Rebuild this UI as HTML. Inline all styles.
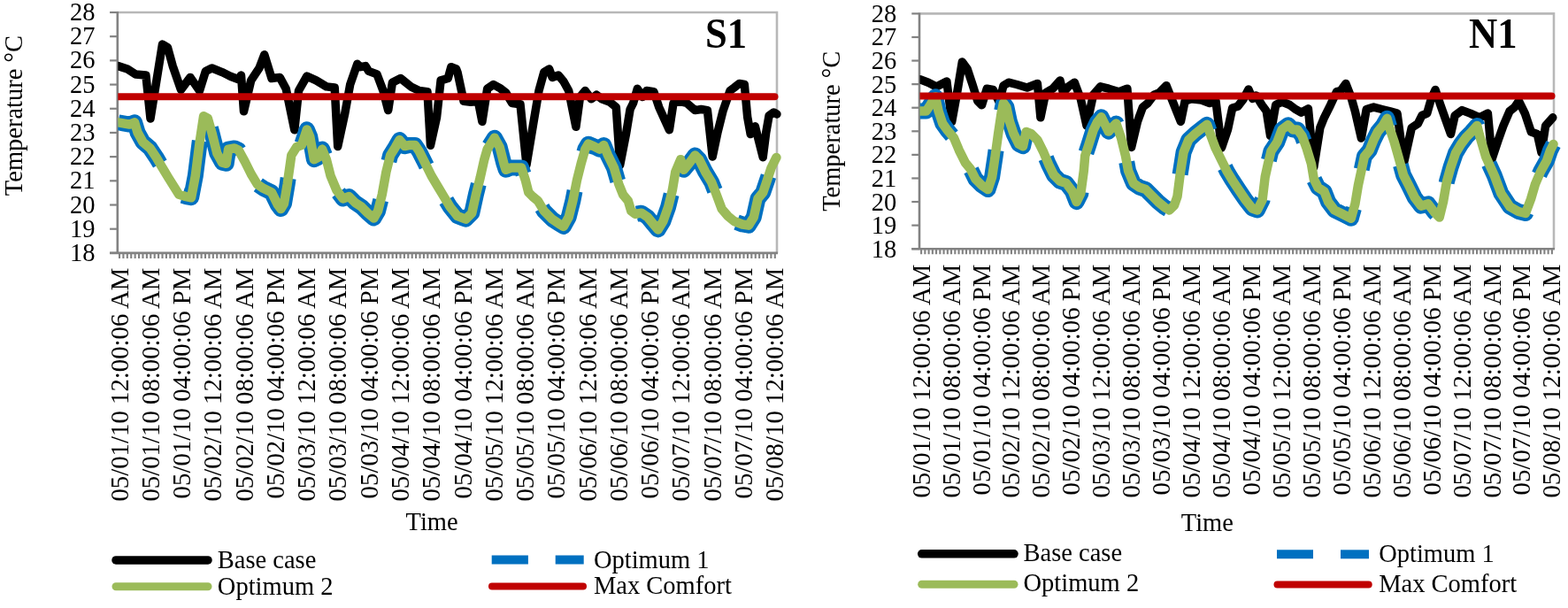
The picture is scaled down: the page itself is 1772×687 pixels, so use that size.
<!DOCTYPE html>
<html><head><meta charset="utf-8"><style>
html,body{margin:0;padding:0;background:#fff;overflow:hidden;width:1772px;height:687px;}
svg{display:block;}
text{font-family:'Liberation Serif','Times New Roman',serif;font-size:28.5px;fill:#000;}
</style></head><body>
<svg width="1772" height="687" viewBox="0 0 1772 687">
<rect width="1772" height="687" fill="#fff"/>
<path d="M132.8,14.0 H878 V285.9" fill="none" stroke="#b8b8b8" stroke-width="2.6"/>
<line x1="124.1" y1="285.90" x2="132.8" y2="285.90" stroke="#828282" stroke-width="2.2"/>
<text x="107.5" y="294.90" text-anchor="end">18</text>
<line x1="124.1" y1="258.71" x2="132.8" y2="258.71" stroke="#828282" stroke-width="2.2"/>
<text x="107.5" y="267.71" text-anchor="end">19</text>
<line x1="124.1" y1="231.52" x2="132.8" y2="231.52" stroke="#828282" stroke-width="2.2"/>
<text x="107.5" y="240.52" text-anchor="end">20</text>
<line x1="124.1" y1="204.33" x2="132.8" y2="204.33" stroke="#828282" stroke-width="2.2"/>
<text x="107.5" y="213.33" text-anchor="end">21</text>
<line x1="124.1" y1="177.14" x2="132.8" y2="177.14" stroke="#828282" stroke-width="2.2"/>
<text x="107.5" y="186.14" text-anchor="end">22</text>
<line x1="124.1" y1="149.95" x2="132.8" y2="149.95" stroke="#828282" stroke-width="2.2"/>
<text x="107.5" y="158.95" text-anchor="end">23</text>
<line x1="124.1" y1="122.76" x2="132.8" y2="122.76" stroke="#828282" stroke-width="2.2"/>
<text x="107.5" y="131.76" text-anchor="end">24</text>
<line x1="124.1" y1="95.57" x2="132.8" y2="95.57" stroke="#828282" stroke-width="2.2"/>
<text x="107.5" y="104.57" text-anchor="end">25</text>
<line x1="124.1" y1="68.38" x2="132.8" y2="68.38" stroke="#828282" stroke-width="2.2"/>
<text x="107.5" y="77.38" text-anchor="end">26</text>
<line x1="124.1" y1="41.19" x2="132.8" y2="41.19" stroke="#828282" stroke-width="2.2"/>
<text x="107.5" y="50.19" text-anchor="end">27</text>
<line x1="124.1" y1="14.00" x2="132.8" y2="14.00" stroke="#828282" stroke-width="2.2"/>
<text x="107.5" y="23.00" text-anchor="end">28</text>
<path d="M135.00,285.9 v6 M139.41,285.9 v6 M143.82,285.9 v6 M148.23,285.9 v6 M152.64,285.9 v6 M157.05,285.9 v6 M161.46,285.9 v6 M165.87,285.9 v6 M170.28,285.9 v6 M174.69,285.9 v6 M179.10,285.9 v6 M183.51,285.9 v6 M187.92,285.9 v6 M192.33,285.9 v6 M196.74,285.9 v6 M201.15,285.9 v6 M205.56,285.9 v6 M209.97,285.9 v6 M214.38,285.9 v6 M218.78,285.9 v6 M223.19,285.9 v6 M227.60,285.9 v6 M232.01,285.9 v6 M236.42,285.9 v6 M240.83,285.9 v6 M245.24,285.9 v6 M249.65,285.9 v6 M254.06,285.9 v6 M258.47,285.9 v6 M262.88,285.9 v6 M267.29,285.9 v6 M271.70,285.9 v6 M276.11,285.9 v6 M280.52,285.9 v6 M284.93,285.9 v6 M289.34,285.9 v6 M293.75,285.9 v6 M298.16,285.9 v6 M302.56,285.9 v6 M306.97,285.9 v6 M311.38,285.9 v6 M315.79,285.9 v6 M320.20,285.9 v6 M324.61,285.9 v6 M329.02,285.9 v6 M333.43,285.9 v6 M337.84,285.9 v6 M342.25,285.9 v6 M346.66,285.9 v6 M351.07,285.9 v6 M355.48,285.9 v6 M359.89,285.9 v6 M364.30,285.9 v6 M368.71,285.9 v6 M373.12,285.9 v6 M377.53,285.9 v6 M381.93,285.9 v6 M386.34,285.9 v6 M390.75,285.9 v6 M395.16,285.9 v6 M399.57,285.9 v6 M403.98,285.9 v6 M408.39,285.9 v6 M412.80,285.9 v6 M417.21,285.9 v6 M421.62,285.9 v6 M426.03,285.9 v6 M430.44,285.9 v6 M434.85,285.9 v6 M439.26,285.9 v6 M443.67,285.9 v6 M448.08,285.9 v6 M452.49,285.9 v6 M456.90,285.9 v6 M461.31,285.9 v6 M465.71,285.9 v6 M470.12,285.9 v6 M474.53,285.9 v6 M478.94,285.9 v6 M483.35,285.9 v6 M487.76,285.9 v6 M492.17,285.9 v6 M496.58,285.9 v6 M500.99,285.9 v6 M505.40,285.9 v6 M509.81,285.9 v6 M514.22,285.9 v6 M518.63,285.9 v6 M523.04,285.9 v6 M527.45,285.9 v6 M531.86,285.9 v6 M536.27,285.9 v6 M540.68,285.9 v6 M545.09,285.9 v6 M549.49,285.9 v6 M553.90,285.9 v6 M558.31,285.9 v6 M562.72,285.9 v6 M567.13,285.9 v6 M571.54,285.9 v6 M575.95,285.9 v6 M580.36,285.9 v6 M584.77,285.9 v6 M589.18,285.9 v6 M593.59,285.9 v6 M598.00,285.9 v6 M602.41,285.9 v6 M606.82,285.9 v6 M611.23,285.9 v6 M615.64,285.9 v6 M620.05,285.9 v6 M624.46,285.9 v6 M628.87,285.9 v6 M633.27,285.9 v6 M637.68,285.9 v6 M642.09,285.9 v6 M646.50,285.9 v6 M650.91,285.9 v6 M655.32,285.9 v6 M659.73,285.9 v6 M664.14,285.9 v6 M668.55,285.9 v6 M672.96,285.9 v6 M677.37,285.9 v6 M681.78,285.9 v6 M686.19,285.9 v6 M690.60,285.9 v6 M695.01,285.9 v6 M699.42,285.9 v6 M703.83,285.9 v6 M708.24,285.9 v6 M712.64,285.9 v6 M717.05,285.9 v6 M721.46,285.9 v6 M725.87,285.9 v6 M730.28,285.9 v6 M734.69,285.9 v6 M739.10,285.9 v6 M743.51,285.9 v6 M747.92,285.9 v6 M752.33,285.9 v6 M756.74,285.9 v6 M761.15,285.9 v6 M765.56,285.9 v6 M769.97,285.9 v6 M774.38,285.9 v6 M778.79,285.9 v6 M783.20,285.9 v6 M787.61,285.9 v6 M792.02,285.9 v6 M796.42,285.9 v6 M800.83,285.9 v6 M805.24,285.9 v6 M809.65,285.9 v6 M814.06,285.9 v6 M818.47,285.9 v6 M822.88,285.9 v6 M827.29,285.9 v6 M831.70,285.9 v6 M836.11,285.9 v6 M840.52,285.9 v6 M844.93,285.9 v6 M849.34,285.9 v6 M853.75,285.9 v6 M858.16,285.9 v6 M862.57,285.9 v6 M866.98,285.9 v6 M871.39,285.9 v6 M875.80,285.9 v6" stroke="#828282" stroke-width="2.1" fill="none"/>
<line x1="132.8" y1="13.0" x2="132.8" y2="285.9" stroke="#828282" stroke-width="2.6"/>
<line x1="124.1" y1="285.9" x2="879" y2="285.9" stroke="#828282" stroke-width="2.6"/>
<text transform="translate(144.50,302.60) rotate(-90)" text-anchor="end" style="font-size:28.8px">05/01/10 12:00:06 AM</text>
<text transform="translate(179.78,302.60) rotate(-90)" text-anchor="end" style="font-size:28.8px">05/01/10 08:00:06 AM</text>
<text transform="translate(215.06,302.60) rotate(-90)" text-anchor="end" style="font-size:28.8px">05/01/10 04:00:06 PM</text>
<text transform="translate(250.33,302.60) rotate(-90)" text-anchor="end" style="font-size:28.8px">05/02/10 12:00:06 AM</text>
<text transform="translate(285.61,302.60) rotate(-90)" text-anchor="end" style="font-size:28.8px">05/02/10 08:00:06 AM</text>
<text transform="translate(320.88,302.60) rotate(-90)" text-anchor="end" style="font-size:28.8px">05/02/10 04:00:06 PM</text>
<text transform="translate(356.16,302.60) rotate(-90)" text-anchor="end" style="font-size:28.8px">05/03/10 12:00:06 AM</text>
<text transform="translate(391.43,302.60) rotate(-90)" text-anchor="end" style="font-size:28.8px">05/03/10 08:00:06 AM</text>
<text transform="translate(426.71,302.60) rotate(-90)" text-anchor="end" style="font-size:28.8px">05/03/10 04:00:06 PM</text>
<text transform="translate(461.99,302.60) rotate(-90)" text-anchor="end" style="font-size:28.8px">05/04/10 12:00:06 AM</text>
<text transform="translate(497.26,302.60) rotate(-90)" text-anchor="end" style="font-size:28.8px">05/04/10 08:00:06 AM</text>
<text transform="translate(532.54,302.60) rotate(-90)" text-anchor="end" style="font-size:28.8px">05/04/10 04:00:06 PM</text>
<text transform="translate(567.81,302.60) rotate(-90)" text-anchor="end" style="font-size:28.8px">05/05/10 12:00:06 AM</text>
<text transform="translate(603.09,302.60) rotate(-90)" text-anchor="end" style="font-size:28.8px">05/05/10 08:00:06 AM</text>
<text transform="translate(638.37,302.60) rotate(-90)" text-anchor="end" style="font-size:28.8px">05/05/10 04:00:06 PM</text>
<text transform="translate(673.64,302.60) rotate(-90)" text-anchor="end" style="font-size:28.8px">05/06/10 12:00:06 AM</text>
<text transform="translate(708.92,302.60) rotate(-90)" text-anchor="end" style="font-size:28.8px">05/06/10 08:00:06 AM</text>
<text transform="translate(744.19,302.60) rotate(-90)" text-anchor="end" style="font-size:28.8px">05/06/10 04:00:06 PM</text>
<text transform="translate(779.47,302.60) rotate(-90)" text-anchor="end" style="font-size:28.8px">05/07/10 12:00:06 AM</text>
<text transform="translate(814.74,302.60) rotate(-90)" text-anchor="end" style="font-size:28.8px">05/07/10 08:00:06 AM</text>
<text transform="translate(850.02,302.60) rotate(-90)" text-anchor="end" style="font-size:28.8px">05/07/10 04:00:06 PM</text>
<text transform="translate(885.30,302.60) rotate(-90)" text-anchor="end" style="font-size:28.8px">05/08/10 12:00:06 AM</text>
<clipPath id="cpS1"><rect x="133.3" y="0" width="765.2" height="295.9"/></clipPath><g clip-path="url(#cpS1)">
<polyline points="133.5,74.6 144.0,78.0 153.3,83.9 164.9,85.0 170.0,134.0 183.5,50.1 189.4,53.6 195.2,74.6 204.5,101.4 215.0,87.4 225.5,102.5 232.4,80.4 239.4,76.9 251.0,81.6 260.4,86.2 269.7,89.7 272.5,85.0 275.5,125.8 283.7,90.9 293.0,76.9 298.8,61.8 307.0,88.5 316.3,87.4 323.2,100.2 332.8,146.8 337.5,102.5 346.8,86.2 357.3,90.9 368.9,97.9 378.2,99.0 381.7,165.4 389.8,128.0 395.7,95.5 403.8,72.3 407.3,75.7 413.1,74.6 416.6,80.4 426.0,83.9 433.0,102.5 438.7,124.6 443.4,93.2 452.7,88.5 464.4,97.9 473.7,102.5 483.0,103.7 486.5,164.2 493.5,132.8 498.1,90.9 506.3,88.5 509.8,75.7 515.6,78.0 517.0,81.6 524.0,114.2 532.1,115.3 540.3,114.2 544.9,137.4 550.7,100.2 557.7,95.5 565.9,100.2 571.7,104.8 578.7,116.5 588.0,117.7 595.0,186.3 603.1,137.4 609.0,102.5 614.8,81.6 620.6,78.0 624.1,87.4 631.1,85.0 636.9,92.0 642.7,102.5 650.9,143.3 655.5,109.5 661.3,102.5 668.3,111.8 674.1,107.2 680.0,111.8 689.3,115.3 696.3,121.1 700.7,186.3 707.5,151.4 712.1,123.5 715.6,116.5 720.3,100.2 726.1,109.5 730.7,102.5 738.9,103.7 744.7,121.1 756.4,146.8 761.0,116.5 766.8,114.2 776.1,116.5 785.5,124.6 792.4,123.5 799.4,124.6 805.2,177.0 811.1,149.1 816.9,125.8 825.0,102.5 829.7,99.0 835.5,94.4 841.3,95.5 844.7,132.4 848.2,151.6 853.4,142.8 862.2,177.7 865.7,149.8 869.1,130.6 874.4,127.0 877.9,128.9" fill="none" stroke="#000000" stroke-width="9.5" stroke-linejoin="round" stroke-linecap="round"/>
<polyline points="133.5,138.3 139.3,139.4 146.3,140.6 152.1,138.3 155.6,149.9 161.4,160.4 169.6,167.4 176.6,177.9 183.5,189.5 190.5,201.1 196.4,210.5 202.2,219.8 210.3,222.1 216.1,223.3 220.8,198.8 225.5,161.6 230.1,131.3 234.8,133.6 239.4,149.9 245.3,173.2 251.1,183.7 255.7,184.8 258.1,168.6 265.0,167.4 269.7,169.7 276.7,182.5 283.7,196.5 290.7,208.1 297.6,212.8 307.0,217.4 313.9,231.4 317.4,236.1 321.0,230.0 324.7,208.1 329.3,175.5 335.1,166.2 341.0,163.9 346.8,146.4 350.3,154.6 354.9,180.2 359.6,177.9 364.2,168.6 368.9,180.2 373.6,198.8 380.5,215.1 387.5,224.4 394.5,222.1 401.5,229.1 408.5,233.7 415.5,240.7 422.4,246.5 427.1,238.4 431.8,219.8 436.4,194.2 441.1,175.5 446.9,166.2 451.5,158.1 457.4,165.1 463.2,163.9 469.0,163.9 473.7,170.9 480.7,184.8 487.6,198.8 494.6,210.5 501.6,222.1 508.6,233.7 517.0,244.2 526.3,247.7 533.3,240.7 537.9,219.8 542.6,201.1 547.3,180.2 550.7,168.6 556.6,159.2 558.9,155.7 564.7,166.2 569.4,184.8 571.7,191.8 577.5,189.5 589.2,189.5 593.8,203.5 597.3,217.4 602.0,222.1 607.8,226.8 614.8,238.4 624.1,247.7 631.1,252.4 636.9,255.9 642.7,245.4 647.4,226.8 652.0,203.5 656.7,184.8 661.3,168.6 664.8,162.7 670.7,165.1 677.6,168.6 682.3,163.9 687.0,175.5 693.9,189.5 699.3,208.1 704.0,219.8 709.8,226.8 713.3,238.4 717.9,241.9 724.9,240.7 731.9,245.4 737.7,252.4 743.6,259.4 749.4,250.0 755.2,233.7 759.8,215.1 763.3,194.2 769.2,180.2 772.7,191.8 778.5,184.8 785.5,175.5 790.1,180.2 797.1,194.2 804.1,205.8 808.7,217.4 815.7,236.1 822.7,244.2 829.7,250.0 839.0,253.5 846.0,254.7 851.8,245.4 856.5,224.4 862.3,217.4 867.0,203.5 871.6,189.5 877.4,177.9" fill="none" stroke="#0070c0" stroke-width="18" stroke-linejoin="round" stroke-dasharray="75 45" stroke-dashoffset="0"/>
<polyline points="133.5,138.3 139.3,139.4 146.3,140.6 152.1,138.3 155.6,149.9 161.4,160.4 169.6,167.4 176.6,177.9 183.5,189.5 190.5,201.1 196.4,210.5 202.2,219.8 210.3,222.1 216.1,223.3 220.8,198.8 225.5,161.6 230.1,131.3 234.8,133.6 239.4,149.9 245.3,173.2 251.1,183.7 255.7,184.8 258.1,168.6 265.0,167.4 269.7,169.7 276.7,182.5 283.7,196.5 290.7,208.1 297.6,212.8 307.0,217.4 313.9,231.4 317.4,236.1 321.0,230.0 324.7,208.1 329.3,175.5 335.1,166.2 341.0,163.9 346.8,146.4 350.3,154.6 354.9,180.2 359.6,177.9 364.2,168.6 368.9,180.2 373.6,198.8 380.5,215.1 387.5,224.4 394.5,222.1 401.5,229.1 408.5,233.7 415.5,240.7 422.4,246.5 427.1,238.4 431.8,219.8 436.4,194.2 441.1,175.5 446.9,166.2 451.5,158.1 457.4,165.1 463.2,163.9 469.0,163.9 473.7,170.9 480.7,184.8 487.6,198.8 494.6,210.5 501.6,222.1 508.6,233.7 517.0,244.2 526.3,247.7 533.3,240.7 537.9,219.8 542.6,201.1 547.3,180.2 550.7,168.6 556.6,159.2 558.9,155.7 564.7,166.2 569.4,184.8 571.7,191.8 577.5,189.5 589.2,189.5 593.8,203.5 597.3,217.4 602.0,222.1 607.8,226.8 614.8,238.4 624.1,247.7 631.1,252.4 636.9,255.9 642.7,245.4 647.4,226.8 652.0,203.5 656.7,184.8 661.3,168.6 664.8,162.7 670.7,165.1 677.6,168.6 682.3,163.9 687.0,175.5 693.9,189.5 699.3,208.1 704.0,219.8 709.8,226.8 713.3,238.4 717.9,241.9 724.9,240.7 731.9,245.4 737.7,252.4 743.6,259.4 749.4,250.0 755.2,233.7 759.8,215.1 763.3,194.2 769.2,180.2 772.7,191.8 778.5,184.8 785.5,175.5 790.1,180.2 797.1,194.2 804.1,205.8 808.7,217.4 815.7,236.1 822.7,244.2 829.7,250.0 839.0,253.5 846.0,254.7 851.8,245.4 856.5,224.4 862.3,217.4 867.0,203.5 871.6,189.5 877.4,177.9" fill="none" stroke="#9bbb59" stroke-width="10.5" stroke-linejoin="round" stroke-linecap="round"/>
<line x1="132.8" y1="109.16" x2="875.5" y2="109.16" stroke="#c00000" stroke-width="8" stroke-linecap="round"/>
</g>
<text transform="translate(25,130.6) rotate(-90)" text-anchor="middle">Temperature °C</text>
<text x="458.5" y="599">Time</text>
<text transform="translate(797,54) scale(0.92,1)" style="font-weight:bold;font-size:48.5px">S1</text>
<line x1="131" y1="632.9" x2="235" y2="632.9" stroke="#000000" stroke-width="9.5" stroke-linecap="round"/>
<line x1="131" y1="662.7" x2="235" y2="662.7" stroke="#9bbb59" stroke-width="9" stroke-linecap="round"/>
<text x="245.8" y="642">Base case</text>
<text x="245.8" y="671.5">Optimum 2</text>
<line x1="555.7" y1="632.6" x2="596.9" y2="632.6" stroke="#0070c0" stroke-width="10"/>
<line x1="627.7" y1="632.6" x2="659.7" y2="632.6" stroke="#0070c0" stroke-width="10"/>
<line x1="556" y1="662.4" x2="659" y2="662.4" stroke="#c00000" stroke-width="8" stroke-linecap="round"/>
<text x="670.9" y="641.8">Optimum 1</text>
<text x="670.9" y="671.4">Max Comfort</text>
<path d="M1039,15.4 H1756 V281.2" fill="none" stroke="#b8b8b8" stroke-width="2.6"/>
<line x1="1030.3" y1="281.20" x2="1039" y2="281.20" stroke="#828282" stroke-width="2.2"/>
<text x="1013.3" y="290.70" text-anchor="end">18</text>
<line x1="1030.3" y1="254.62" x2="1039" y2="254.62" stroke="#828282" stroke-width="2.2"/>
<text x="1013.3" y="264.12" text-anchor="end">19</text>
<line x1="1030.3" y1="228.04" x2="1039" y2="228.04" stroke="#828282" stroke-width="2.2"/>
<text x="1013.3" y="237.54" text-anchor="end">20</text>
<line x1="1030.3" y1="201.46" x2="1039" y2="201.46" stroke="#828282" stroke-width="2.2"/>
<text x="1013.3" y="210.96" text-anchor="end">21</text>
<line x1="1030.3" y1="174.88" x2="1039" y2="174.88" stroke="#828282" stroke-width="2.2"/>
<text x="1013.3" y="184.38" text-anchor="end">22</text>
<line x1="1030.3" y1="148.30" x2="1039" y2="148.30" stroke="#828282" stroke-width="2.2"/>
<text x="1013.3" y="157.80" text-anchor="end">23</text>
<line x1="1030.3" y1="121.72" x2="1039" y2="121.72" stroke="#828282" stroke-width="2.2"/>
<text x="1013.3" y="131.22" text-anchor="end">24</text>
<line x1="1030.3" y1="95.14" x2="1039" y2="95.14" stroke="#828282" stroke-width="2.2"/>
<text x="1013.3" y="104.64" text-anchor="end">25</text>
<line x1="1030.3" y1="68.56" x2="1039" y2="68.56" stroke="#828282" stroke-width="2.2"/>
<text x="1013.3" y="78.06" text-anchor="end">26</text>
<line x1="1030.3" y1="41.98" x2="1039" y2="41.98" stroke="#828282" stroke-width="2.2"/>
<text x="1013.3" y="51.48" text-anchor="end">27</text>
<line x1="1030.3" y1="15.40" x2="1039" y2="15.40" stroke="#828282" stroke-width="2.2"/>
<text x="1013.3" y="24.90" text-anchor="end">28</text>
<path d="M1041.12,281.2 v6 M1045.36,281.2 v6 M1049.61,281.2 v6 M1053.85,281.2 v6 M1058.09,281.2 v6 M1062.33,281.2 v6 M1066.58,281.2 v6 M1070.82,281.2 v6 M1075.06,281.2 v6 M1079.30,281.2 v6 M1083.55,281.2 v6 M1087.79,281.2 v6 M1092.03,281.2 v6 M1096.28,281.2 v6 M1100.52,281.2 v6 M1104.76,281.2 v6 M1109.00,281.2 v6 M1113.25,281.2 v6 M1117.49,281.2 v6 M1121.73,281.2 v6 M1125.97,281.2 v6 M1130.22,281.2 v6 M1134.46,281.2 v6 M1138.70,281.2 v6 M1142.94,281.2 v6 M1147.19,281.2 v6 M1151.43,281.2 v6 M1155.67,281.2 v6 M1159.91,281.2 v6 M1164.16,281.2 v6 M1168.40,281.2 v6 M1172.64,281.2 v6 M1176.88,281.2 v6 M1181.13,281.2 v6 M1185.37,281.2 v6 M1189.61,281.2 v6 M1193.86,281.2 v6 M1198.10,281.2 v6 M1202.34,281.2 v6 M1206.58,281.2 v6 M1210.83,281.2 v6 M1215.07,281.2 v6 M1219.31,281.2 v6 M1223.55,281.2 v6 M1227.80,281.2 v6 M1232.04,281.2 v6 M1236.28,281.2 v6 M1240.52,281.2 v6 M1244.77,281.2 v6 M1249.01,281.2 v6 M1253.25,281.2 v6 M1257.49,281.2 v6 M1261.74,281.2 v6 M1265.98,281.2 v6 M1270.22,281.2 v6 M1274.46,281.2 v6 M1278.71,281.2 v6 M1282.95,281.2 v6 M1287.19,281.2 v6 M1291.43,281.2 v6 M1295.68,281.2 v6 M1299.92,281.2 v6 M1304.16,281.2 v6 M1308.41,281.2 v6 M1312.65,281.2 v6 M1316.89,281.2 v6 M1321.13,281.2 v6 M1325.38,281.2 v6 M1329.62,281.2 v6 M1333.86,281.2 v6 M1338.10,281.2 v6 M1342.35,281.2 v6 M1346.59,281.2 v6 M1350.83,281.2 v6 M1355.07,281.2 v6 M1359.32,281.2 v6 M1363.56,281.2 v6 M1367.80,281.2 v6 M1372.04,281.2 v6 M1376.29,281.2 v6 M1380.53,281.2 v6 M1384.77,281.2 v6 M1389.01,281.2 v6 M1393.26,281.2 v6 M1397.50,281.2 v6 M1401.74,281.2 v6 M1405.99,281.2 v6 M1410.23,281.2 v6 M1414.47,281.2 v6 M1418.71,281.2 v6 M1422.96,281.2 v6 M1427.20,281.2 v6 M1431.44,281.2 v6 M1435.68,281.2 v6 M1439.93,281.2 v6 M1444.17,281.2 v6 M1448.41,281.2 v6 M1452.65,281.2 v6 M1456.90,281.2 v6 M1461.14,281.2 v6 M1465.38,281.2 v6 M1469.62,281.2 v6 M1473.87,281.2 v6 M1478.11,281.2 v6 M1482.35,281.2 v6 M1486.59,281.2 v6 M1490.84,281.2 v6 M1495.08,281.2 v6 M1499.32,281.2 v6 M1503.57,281.2 v6 M1507.81,281.2 v6 M1512.05,281.2 v6 M1516.29,281.2 v6 M1520.54,281.2 v6 M1524.78,281.2 v6 M1529.02,281.2 v6 M1533.26,281.2 v6 M1537.51,281.2 v6 M1541.75,281.2 v6 M1545.99,281.2 v6 M1550.23,281.2 v6 M1554.48,281.2 v6 M1558.72,281.2 v6 M1562.96,281.2 v6 M1567.20,281.2 v6 M1571.45,281.2 v6 M1575.69,281.2 v6 M1579.93,281.2 v6 M1584.17,281.2 v6 M1588.42,281.2 v6 M1592.66,281.2 v6 M1596.90,281.2 v6 M1601.14,281.2 v6 M1605.39,281.2 v6 M1609.63,281.2 v6 M1613.87,281.2 v6 M1618.12,281.2 v6 M1622.36,281.2 v6 M1626.60,281.2 v6 M1630.84,281.2 v6 M1635.09,281.2 v6 M1639.33,281.2 v6 M1643.57,281.2 v6 M1647.81,281.2 v6 M1652.06,281.2 v6 M1656.30,281.2 v6 M1660.54,281.2 v6 M1664.78,281.2 v6 M1669.03,281.2 v6 M1673.27,281.2 v6 M1677.51,281.2 v6 M1681.75,281.2 v6 M1686.00,281.2 v6 M1690.24,281.2 v6 M1694.48,281.2 v6 M1698.72,281.2 v6 M1702.97,281.2 v6 M1707.21,281.2 v6 M1711.45,281.2 v6 M1715.70,281.2 v6 M1719.94,281.2 v6 M1724.18,281.2 v6 M1728.42,281.2 v6 M1732.67,281.2 v6 M1736.91,281.2 v6 M1741.15,281.2 v6 M1745.39,281.2 v6 M1749.64,281.2 v6 M1753.88,281.2 v6" stroke="#828282" stroke-width="2.1" fill="none"/>
<line x1="1039" y1="14.4" x2="1039" y2="281.2" stroke="#828282" stroke-width="2.6"/>
<line x1="1030.3" y1="281.2" x2="1757" y2="281.2" stroke="#828282" stroke-width="2.6"/>
<text transform="translate(1050.62,298.60) rotate(-90)" text-anchor="end" style="font-size:28.8px">05/01/10 12:00:06 AM</text>
<text transform="translate(1084.56,298.60) rotate(-90)" text-anchor="end" style="font-size:28.8px">05/01/10 08:00:06 AM</text>
<text transform="translate(1118.50,298.60) rotate(-90)" text-anchor="end" style="font-size:28.8px">05/01/10 04:00:06 PM</text>
<text transform="translate(1152.44,298.60) rotate(-90)" text-anchor="end" style="font-size:28.8px">05/02/10 12:00:06 AM</text>
<text transform="translate(1186.38,298.60) rotate(-90)" text-anchor="end" style="font-size:28.8px">05/02/10 08:00:06 AM</text>
<text transform="translate(1220.33,298.60) rotate(-90)" text-anchor="end" style="font-size:28.8px">05/02/10 04:00:06 PM</text>
<text transform="translate(1254.27,298.60) rotate(-90)" text-anchor="end" style="font-size:28.8px">05/03/10 12:00:06 AM</text>
<text transform="translate(1288.21,298.60) rotate(-90)" text-anchor="end" style="font-size:28.8px">05/03/10 08:00:06 AM</text>
<text transform="translate(1322.15,298.60) rotate(-90)" text-anchor="end" style="font-size:28.8px">05/03/10 04:00:06 PM</text>
<text transform="translate(1356.09,298.60) rotate(-90)" text-anchor="end" style="font-size:28.8px">05/04/10 12:00:06 AM</text>
<text transform="translate(1390.03,298.60) rotate(-90)" text-anchor="end" style="font-size:28.8px">05/04/10 08:00:06 AM</text>
<text transform="translate(1423.97,298.60) rotate(-90)" text-anchor="end" style="font-size:28.8px">05/04/10 04:00:06 PM</text>
<text transform="translate(1457.91,298.60) rotate(-90)" text-anchor="end" style="font-size:28.8px">05/05/10 12:00:06 AM</text>
<text transform="translate(1491.85,298.60) rotate(-90)" text-anchor="end" style="font-size:28.8px">05/05/10 08:00:06 AM</text>
<text transform="translate(1525.79,298.60) rotate(-90)" text-anchor="end" style="font-size:28.8px">05/05/10 04:00:06 PM</text>
<text transform="translate(1559.73,298.60) rotate(-90)" text-anchor="end" style="font-size:28.8px">05/06/10 12:00:06 AM</text>
<text transform="translate(1593.67,298.60) rotate(-90)" text-anchor="end" style="font-size:28.8px">05/06/10 08:00:06 AM</text>
<text transform="translate(1627.62,298.60) rotate(-90)" text-anchor="end" style="font-size:28.8px">05/06/10 04:00:06 PM</text>
<text transform="translate(1661.56,298.60) rotate(-90)" text-anchor="end" style="font-size:28.8px">05/07/10 12:00:06 AM</text>
<text transform="translate(1695.50,298.60) rotate(-90)" text-anchor="end" style="font-size:28.8px">05/07/10 08:00:06 AM</text>
<text transform="translate(1729.44,298.60) rotate(-90)" text-anchor="end" style="font-size:28.8px">05/07/10 04:00:06 PM</text>
<text transform="translate(1763.38,298.60) rotate(-90)" text-anchor="end" style="font-size:28.8px">05/08/10 12:00:06 AM</text>
<clipPath id="cpN1"><rect x="1039.5" y="0" width="737" height="291.2"/></clipPath><g clip-path="url(#cpN1)">
<polyline points="1039.7,89.7 1049.0,93.2 1058.3,97.9 1069.9,92.0 1075.7,137.4 1081.6,104.8 1087.4,69.9 1093.2,78.1 1099.0,95.5 1104.8,114.2 1109.5,118.8 1115.3,100.2 1122.3,101.4 1129.3,115.3 1134.0,96.7 1139.8,93.2 1149.1,95.5 1160.7,99.0 1172.4,94.4 1175.9,132.8 1181.7,104.8 1189.8,100.2 1198.0,90.9 1201.5,104.8 1207.3,97.9 1214.3,93.2 1221.3,111.8 1228.0,142.0 1235.5,107.2 1243.6,97.9 1252.9,100.2 1264.6,103.7 1273.9,100.2 1278.6,166.5 1285.5,137.4 1291.4,121.1 1297.2,116.5 1304.2,107.2 1310.0,104.8 1318.1,96.7 1325.1,114.2 1334.4,137.4 1339.1,114.2 1346.1,111.8 1357.7,113.0 1367.0,116.5 1374.0,114.2 1380.5,167.0 1387.5,146.4 1392.7,122.0 1398.8,120.2 1405.0,112.3 1411.0,101.0 1415.5,111.5 1419.5,108.0 1426.0,118.5 1431.2,125.5 1435.6,153.4 1441.7,118.5 1448.7,115.0 1457.4,118.5 1464.4,123.7 1470.5,127.2 1478.4,122.8 1484.8,188.7 1491.8,144.4 1496.5,132.8 1503.5,118.8 1510.5,103.7 1515.1,102.5 1520.9,94.4 1526.8,109.5 1531.4,125.8 1538.4,156.1 1544.2,123.5 1552.4,121.1 1561.7,123.5 1571.0,125.8 1579.0,128.1 1586.5,184.0 1595.3,144.4 1602.3,139.8 1606.9,130.5 1612.7,128.1 1617.4,111.8 1622.1,101.4 1627.9,118.8 1633.7,135.1 1639.5,151.4 1644.2,130.5 1652.3,124.6 1661.6,128.1 1672.1,132.8 1681.4,128.1 1686.1,179.4 1693.1,158.4 1698.9,142.1 1705.9,125.8 1711.7,121.1 1716.4,114.2 1723.3,128.1 1730.3,149.1 1737.3,151.4 1742.0,172.4 1746.6,142.1 1754.8,132.8" fill="none" stroke="#000000" stroke-width="9.5" stroke-linejoin="round" stroke-linecap="round"/>
<polyline points="1039.7,125.6 1046.6,125.6 1051.3,118.6 1057.1,109.3 1060.6,125.6 1065.3,139.6 1071.1,147.7 1078.1,155.9 1083.9,169.8 1090.9,183.8 1096.7,190.8 1102.5,202.4 1109.5,209.4 1116.5,214.1 1121.1,200.1 1124.6,176.8 1128.1,151.2 1131.6,127.9 1134.0,116.3 1137.4,121.0 1140.9,137.3 1145.6,151.2 1151.4,162.9 1156.1,165.2 1159.6,148.9 1165.4,151.2 1172.4,158.2 1179.4,172.2 1185.2,186.1 1191.0,197.8 1198.0,204.8 1205.0,207.1 1212.0,216.4 1216.6,228.1 1221.3,218.7 1224.8,193.1 1226.2,176.2 1230.3,163.9 1235.4,147.6 1240.0,138.0 1244.6,132.3 1248.5,140.0 1252.7,148.6 1257.0,144.0 1261.4,139.5 1267.0,155.8 1272.0,176.2 1275.1,193.1 1280.9,207.1 1287.9,211.8 1294.8,214.1 1301.8,221.1 1308.8,228.1 1315.8,233.9 1321.6,237.4 1327.0,232.0 1330.5,222.0 1333.8,196.0 1337.6,172.0 1343.3,158.0 1350.8,151.0 1358.4,145.0 1364.1,140.8 1369.0,155.0 1373.6,167.3 1381.1,182.5 1386.8,193.9 1392.5,203.3 1400.0,214.7 1407.7,226.0 1415.2,235.5 1420.9,237.4 1426.6,226.0 1429.7,200.0 1433.0,185.0 1436.4,170.9 1443.4,160.4 1448.7,146.4 1455.7,141.2 1460.9,146.4 1466.2,146.4 1471.4,153.4 1476.6,167.4 1481.9,184.9 1484.8,202.4 1489.5,211.8 1496.5,216.4 1501.1,228.1 1508.1,237.4 1517.4,242.0 1526.8,246.7 1531.4,230.4 1534.9,209.4 1538.4,193.1 1541.9,176.8 1547.7,169.8 1552.4,158.2 1557.0,148.9 1562.8,141.9 1567.5,133.8 1571.0,146.6 1575.7,160.5 1580.3,176.8 1586.1,197.8 1592.0,209.4 1598.9,223.4 1605.9,232.7 1613.9,230.4 1620.9,239.7 1626.7,245.5 1631.0,228.0 1635.0,205.0 1639.5,189.0 1645.0,173.0 1651.0,163.0 1657.0,155.0 1663.0,149.0 1669.2,141.9 1671.7,151.8 1679.1,177.0 1689.0,198.8 1696.4,218.6 1706.3,233.5 1716.0,239.0 1724.0,241.0 1730.0,225.0 1735.0,208.0 1741.0,194.0 1748.0,181.5 1752.0,170.0 1755.5,163.0" fill="none" stroke="#0070c0" stroke-width="18" stroke-linejoin="round" stroke-dasharray="75 45" stroke-dashoffset="0"/>
<polyline points="1039.7,125.6 1046.6,125.6 1051.3,118.6 1057.1,109.3 1060.6,125.6 1065.3,139.6 1071.1,147.7 1078.1,155.9 1083.9,169.8 1090.9,183.8 1096.7,190.8 1102.5,202.4 1109.5,209.4 1116.5,214.1 1121.1,200.1 1124.6,176.8 1128.1,151.2 1131.6,127.9 1134.0,116.3 1137.4,121.0 1140.9,137.3 1145.6,151.2 1151.4,162.9 1156.1,165.2 1159.6,148.9 1165.4,151.2 1172.4,158.2 1179.4,172.2 1185.2,186.1 1191.0,197.8 1198.0,204.8 1205.0,207.1 1212.0,216.4 1216.6,228.1 1221.3,218.7 1224.8,193.1 1226.2,176.2 1230.3,163.9 1235.4,147.6 1240.0,138.0 1244.6,132.3 1248.5,140.0 1252.7,148.6 1257.0,144.0 1261.4,139.5 1267.0,155.8 1272.0,176.2 1275.1,193.1 1280.9,207.1 1287.9,211.8 1294.8,214.1 1301.8,221.1 1308.8,228.1 1315.8,233.9 1321.6,237.4 1327.0,232.0 1330.5,222.0 1333.8,196.0 1337.6,172.0 1343.3,158.0 1350.8,151.0 1358.4,145.0 1364.1,140.8 1369.0,155.0 1373.6,167.3 1381.1,182.5 1386.8,193.9 1392.5,203.3 1400.0,214.7 1407.7,226.0 1415.2,235.5 1420.9,237.4 1426.6,226.0 1429.7,200.0 1433.0,185.0 1436.4,170.9 1443.4,160.4 1448.7,146.4 1455.7,141.2 1460.9,146.4 1466.2,146.4 1471.4,153.4 1476.6,167.4 1481.9,184.9 1484.8,202.4 1489.5,211.8 1496.5,216.4 1501.1,228.1 1508.1,237.4 1517.4,242.0 1526.8,246.7 1531.4,230.4 1534.9,209.4 1538.4,193.1 1541.9,176.8 1547.7,169.8 1552.4,158.2 1557.0,148.9 1562.8,141.9 1567.5,133.8 1571.0,146.6 1575.7,160.5 1580.3,176.8 1586.1,197.8 1592.0,209.4 1598.9,223.4 1605.9,232.7 1613.9,230.4 1620.9,239.7 1626.7,245.5 1631.0,228.0 1635.0,205.0 1639.5,189.0 1645.0,173.0 1651.0,163.0 1657.0,155.0 1663.0,149.0 1669.2,141.9 1671.7,151.8 1679.1,177.0 1689.0,198.8 1696.4,218.6 1706.3,233.5 1716.0,239.0 1724.0,241.0 1730.0,225.0 1735.0,208.0 1741.0,194.0 1748.0,181.5 1752.0,170.0 1755.5,163.0" fill="none" stroke="#9bbb59" stroke-width="10.5" stroke-linejoin="round" stroke-linecap="round"/>
<line x1="1039" y1="108.43" x2="1753.5" y2="108.43" stroke="#c00000" stroke-width="8" stroke-linecap="round"/>
</g>
<text transform="translate(948.8,148.3) rotate(-90)" text-anchor="middle">Temperature °C</text>
<text x="1334.8" y="600.3">Time</text>
<text transform="translate(1660,53.5) scale(0.92,1)" style="font-weight:bold;font-size:48.5px">N1</text>
<line x1="1041.7" y1="625.8" x2="1146" y2="625.8" stroke="#000000" stroke-width="9.5" stroke-linecap="round"/>
<line x1="1041.7" y1="660.2" x2="1146" y2="660.2" stroke="#9bbb59" stroke-width="9" stroke-linecap="round"/>
<text x="1156.5" y="634">Base case</text>
<text x="1156.5" y="668.3">Optimum 2</text>
<line x1="1443" y1="626.3" x2="1484" y2="626.3" stroke="#0070c0" stroke-width="10"/>
<line x1="1515" y1="626.3" x2="1547" y2="626.3" stroke="#0070c0" stroke-width="10"/>
<line x1="1443.5" y1="660.4" x2="1546.7" y2="660.4" stroke="#c00000" stroke-width="8" stroke-linecap="round"/>
<text x="1558.2" y="634.6">Optimum 1</text>
<text x="1558.2" y="669.2">Max Comfort</text>
</svg>
</body></html>
